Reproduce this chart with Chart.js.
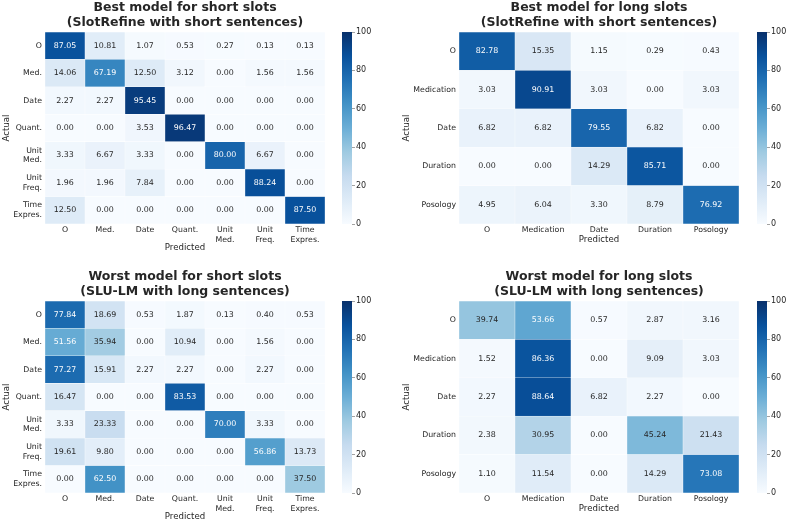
<!DOCTYPE html>
<html>
<head>
<meta charset="utf-8">
<script src="https://cdn.jsdelivr.net/npm/chart.js@4.4.0/dist/chart.umd.min.js"></script>
<style>
  html, body { margin: 0; padding: 0; background: #fff; }
  #fig { position: relative; width: 789px; height: 525px; overflow: hidden; }
  #fig canvas { position: absolute; }
</style>
</head>
<body>
<div id="fig"></div>
<script>
// slot labels (a space means a line break in the tick label)
const shortSlots = ['O', 'Med.', 'Date', 'Quant.', 'Unit Med.', 'Unit Freq.', 'Time Expres.'];
const longSlots = ['O', 'Medication', 'Date', 'Duration', 'Posology'];

// rows = actual, columns = predicted (percent)
const bestShort = [
  [87.05, 10.81, 1.07, 0.53, 0.27, 0.13, 0.13],
  [14.06, 67.19, 12.50, 3.12, 0.00, 1.56, 1.56],
  [2.27, 2.27, 95.45, 0.00, 0.00, 0.00, 0.00],
  [0.00, 0.00, 3.53, 96.47, 0.00, 0.00, 0.00],
  [3.33, 6.67, 3.33, 0.00, 80.00, 6.67, 0.00],
  [1.96, 1.96, 7.84, 0.00, 0.00, 88.24, 0.00],
  [12.50, 0.00, 0.00, 0.00, 0.00, 0.00, 87.50]
];
const bestLong = [
  [82.78, 15.35, 1.15, 0.29, 0.43],
  [3.03, 90.91, 3.03, 0.00, 3.03],
  [6.82, 6.82, 79.55, 6.82, 0.00],
  [0.00, 0.00, 14.29, 85.71, 0.00],
  [4.95, 6.04, 3.30, 8.79, 76.92]
];
const worstShort = [
  [77.84, 18.69, 0.53, 1.87, 0.13, 0.40, 0.53],
  [51.56, 35.94, 0.00, 10.94, 0.00, 1.56, 0.00],
  [77.27, 15.91, 2.27, 2.27, 0.00, 2.27, 0.00],
  [16.47, 0.00, 0.00, 83.53, 0.00, 0.00, 0.00],
  [3.33, 23.33, 0.00, 0.00, 70.00, 3.33, 0.00],
  [19.61, 9.80, 0.00, 0.00, 0.00, 56.86, 13.73],
  [0.00, 62.50, 0.00, 0.00, 0.00, 0.00, 37.50]
];
const worstLong = [
  [39.74, 53.66, 0.57, 2.87, 3.16],
  [1.52, 86.36, 0.00, 9.09, 3.03],
  [2.27, 88.64, 6.82, 2.27, 0.00],
  [2.38, 30.95, 0.00, 45.24, 21.43],
  [1.10, 11.54, 0.00, 14.29, 73.08]
];

const vMin = 0, vMax = 100, cbarStep = 20;

// matplotlib "Blues"
const blues = ['#f7fbff', '#deebf7', '#c6dbef', '#9ecae1', '#6baed6', '#4292c6', '#2171b5', '#08519c', '#08306b'];
const ink = '#262626';

Chart.defaults.font.family = '"DejaVu Sans", sans-serif';
Chart.defaults.color = ink;

function hexRgb(h) {
  return [1, 3, 5].map(i => parseInt(h.slice(i, i + 2), 16));
}
function bluesRgb(v) {
  let t = Math.min(Math.max((v - vMin) / (vMax - vMin), 0), 1) * (blues.length - 1);
  const i = Math.min(Math.floor(t), blues.length - 2);
  const f = t - i;
  const a = hexRgb(blues[i]), b = hexRgb(blues[i + 1]);
  return a.map((c, k) => c + (b[k] - c) * f);
}
function cellColor(v) {
  const c = bluesRgb(v).map(Math.round);
  return `rgb(${c[0]},${c[1]},${c[2]})`;
}
// seaborn: light text on dark cells
function textColor(v) {
  const lin = bluesRgb(v).map(c => {
    c /= 255;
    return c <= 0.03928 ? c / 12.92 : Math.pow((c + 0.055) / 1.055, 2.4);
  });
  const lum = 0.2126 * lin[0] + 0.7152 * lin[1] + 0.0722 * lin[2];
  return lum > 0.408 ? ink : '#ffffff';
}

const cellText = {
  id: 'cellText',
  afterDatasetsDraw(chart) {
    const ctx = chart.ctx;
    const ds = chart.data.datasets[0];
    ctx.save();
    ctx.font = '7.9px "DejaVu Sans"';
    ctx.textAlign = 'center';
    ctx.textBaseline = 'middle';
    chart.getDatasetMeta(0).data.forEach((bar, i) => {
      const v = ds.data[i].v;
      const p = bar.getProps(['x', 'y', 'base'], true);
      ctx.fillStyle = textColor(v);
      ctx.fillText(v.toFixed(2), p.x, (p.y + p.base) / 2);
    });
    ctx.restore();
  }
};

const fig = document.getElementById('fig');
function makeCanvas(left, top, w, h) {
  const c = document.createElement('canvas');
  c.width = w; c.height = h;
  c.style.left = left + 'px'; c.style.top = top + 'px';
  c.style.width = w + 'px'; c.style.height = h + 'px';
  fig.appendChild(c);
  return c;
}

// p: canvas left, chart area box, x-axis band height
function heatmap(p, labels, matrix, title) {
  const titleH = 32;
  const top = p.ay0 - titleH;
  const w = p.ax1 - p.left + 10;
  const h = Math.ceil(p.ay1 - top + p.xh);
  const canvas = makeCanvas(p.left, top, w, h);
  const cells = matrix.flatMap((row, r) => row.map((v, c) => ({ x: labels[c], y: [r, r + 1], v })));
  new Chart(canvas, {
    type: 'bar',
    data: {
      labels: labels,
      datasets: [{
        data: cells,
        backgroundColor: cells.map(d => cellColor(d.v)),
        borderColor: 'rgba(255,255,255,0.55)',
        borderWidth: 0.5,
        borderSkipped: false,
        barPercentage: 1,
        categoryPercentage: 1
      }]
    },
    options: {
      responsive: false,
      animation: false,
      devicePixelRatio: 1,
      layout: { padding: { left: 0, top: 0, right: 10, bottom: h - (p.ay1 - top) - p.xh } },
      plugins: {
        legend: { display: false },
        tooltip: { enabled: false },
        title: {
          display: true,
          fullSize: false,
          text: title,
          color: ink,
          font: { size: 12.5, weight: 'bold', lineHeight: 1.2 },
          padding: { top: 0, bottom: 2 }
        }
      },
      scales: {
        x: {
          type: 'category',
          offset: true,
          grid: { display: false, drawTicks: false },
          border: { display: false },
          ticks: {
            autoSkip: false, maxRotation: 0, minRotation: 0, padding: 1.5,
            color: ink, font: { size: 7.8, lineHeight: 1.2 },
            callback: (v, i) => labels[i].split(' ')
          },
          title: { display: true, text: 'Predicted', color: ink, font: { size: 8.6, lineHeight: 1.2 }, padding: 0 },
          afterFit: s => { s.height = p.xh; }
        },
        y: {
          type: 'linear',
          min: 0,
          max: labels.length,
          reverse: true,
          afterBuildTicks: s => { s.ticks = labels.map((_, i) => ({ value: i + 0.5 })); },
          grid: { display: false, drawTicks: false },
          border: { display: false },
          ticks: {
            autoSkip: false, padding: 3,
            color: ink, font: { size: 7.8, lineHeight: 1.25 },
            callback: (v, i) => labels[i].split(' ')
          },
          title: { display: true, text: 'Actual', color: ink, font: { size: 8.6, lineHeight: 1.2 }, padding: { top: 1.5, bottom: 0 } },
          afterFit: s => { s.width = p.ax0 - p.left; }
        }
      }
    },
    plugins: [cellText]
  });
}

function colorbar(left, y0, y1) {
  const pad = 10;
  const canvas = makeCanvas(left, y0 - pad, 40, y1 - y0 + 2 * pad);
  new Chart(canvas, {
    type: 'bar',
    data: {
      labels: [''],
      datasets: [{
        data: [[vMin, vMax]],
        backgroundColor: ctx => {
          const a = ctx.chart.chartArea;
          if (!a) return blues[0];
          const g = ctx.chart.ctx.createLinearGradient(0, a.bottom, 0, a.top);
          blues.forEach((c, i) => g.addColorStop(i / (blues.length - 1), c));
          return g;
        },
        borderWidth: 0,
        barPercentage: 1,
        categoryPercentage: 1
      }]
    },
    options: {
      responsive: false,
      animation: false,
      devicePixelRatio: 1,
      layout: { padding: { left: 0, right: 0, top: pad, bottom: pad } },
      plugins: { legend: { display: false }, tooltip: { enabled: false } },
      scales: {
        x: { display: false },
        y: {
          position: 'right',
          min: vMin, max: vMax,
          ticks: { stepSize: cbarStep, padding: 1, color: ink, font: { size: 8 } },
          grid: { drawOnChartArea: false, drawTicks: true, tickLength: 3, color: '#8a8a8a', lineWidth: 0.8 },
          border: { display: false },
          afterFit: s => { s.width = 30; }
        }
      }
    }
  });
}

heatmap({ left: 0, ax0: 45, ay0: 32, ax1: 325, ay1: 224, xh: 29.2 }, shortSlots, bestShort,
  ['Best model for short slots', '(SlotRefine with short sentences)']);
colorbar(342, 32, 224);

heatmap({ left: 400, ax0: 459, ay0: 32, ax1: 739, ay1: 224, xh: 20.5 }, longSlots, bestLong,
  ['Best model for long slots', '(SlotRefine with short sentences)']);
colorbar(757, 32, 224);

heatmap({ left: 0, ax0: 45, ay0: 301, ax1: 325, ay1: 493, xh: 29.2 }, shortSlots, worstShort,
  ['Worst model for short slots', '(SLU-LM with long sentences)']);
colorbar(342, 301, 493);

heatmap({ left: 400, ax0: 459, ay0: 301, ax1: 739, ay1: 493, xh: 20.5 }, longSlots, worstLong,
  ['Worst model for long slots', '(SLU-LM with long sentences)']);
colorbar(757, 301, 493);
</script>
</body>
</html>
